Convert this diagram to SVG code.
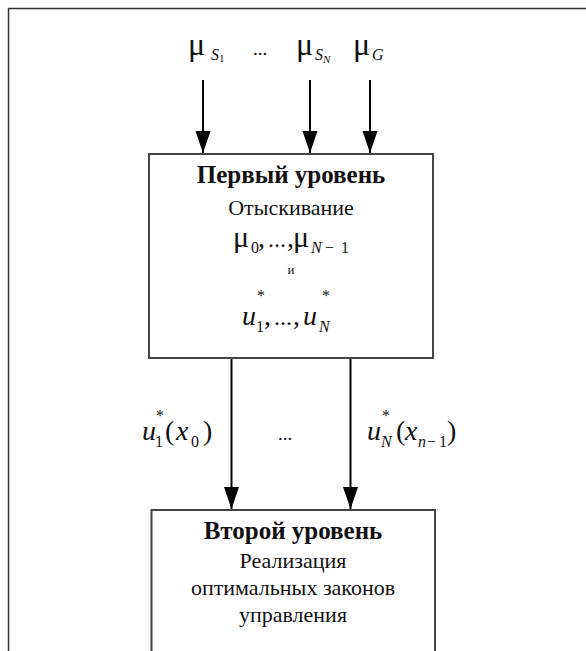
<svg xmlns="http://www.w3.org/2000/svg" width="586" height="651" viewBox="0 0 586 651">
<defs>
<style>
text{font-family:"Liberation Serif","Times New Roman",serif;fill:#111}
.b{font-weight:bold;font-size:25px}
.r{font-size:22px}
.mu{font-size:32px}
.mu2{font-size:30px}
.m{font-size:28px}
.dm{font-size:24px}
.d{font-size:19px}
.s{font-size:16px}
.ss{font-size:11px}
.i{font-style:italic}
.box{fill:#fff;stroke:#444;stroke-width:2}
.ar{stroke:#000;stroke-width:2;fill:none;marker-end:url(#ah)}
</style>
<marker id="ah" markerUnits="userSpaceOnUse" markerWidth="24" markerHeight="16" refX="22" refY="7.5" orient="auto">
<path d="M0,0 L22,7.5 L0,15 Z" fill="#000"/>
</marker>
</defs>
<rect x="8.5" y="8.5" width="620" height="700" fill="none" stroke="#333" stroke-width="1.5"/>
<g id="inputs">
<text class="mu" x="188" y="55">μ</text><text class="s i" x="211" y="60">S</text><text class="ss" x="219" y="62">1</text>
<text class="d" x="253" y="55">...</text>
<text class="mu" x="296" y="55">μ</text><text class="s i" x="315" y="60">S</text><text class="ss i" x="323" y="63">N</text>
<text class="mu" x="353" y="55">μ</text><text class="s i" x="372" y="60">G</text>
</g>
<g id="level1">
<rect class="box" x="149" y="154" width="284" height="204"/>
<text class="b" x="291" y="183" text-anchor="middle">Первый уровень</text>
<text class="r" x="291" y="215" text-anchor="middle">Отыскивание</text>
<text class="mu2" x="233" y="247">μ</text><text class="s" x="251" y="253">0</text><text class="m" x="258" y="247">,</text><text class="dm" x="268" y="247">...</text><text class="m" x="287" y="247">,</text>
<text class="mu2" x="293" y="247">μ</text><text class="s i" x="311" y="253">N</text><text class="s" x="325" y="253">−</text><text class="s" x="341" y="253">1</text>
<text x="291" y="274" text-anchor="middle" style="font-size:13px">и</text>
<text class="m i" x="242" y="325">u</text><text class="s" x="256" y="332">1</text><text class="s" x="257" y="301">*</text><text class="m" x="264" y="325">,</text>
<text class="dm" x="274" y="325">...</text><text class="m" x="293" y="325">,</text>
<text class="m i" x="303" y="325">u</text><text class="s i" x="319" y="332">N</text><text class="s" x="322" y="301">*</text>
</g>
<g id="level2">
<rect class="box" x="151.5" y="510" width="283.5" height="200"/>
<text class="b" x="293" y="539" text-anchor="middle">Второй уровень</text>
<text class="r" x="293" y="568" text-anchor="middle">Реализация</text>
<text class="r" x="293" y="595" text-anchor="middle">оптимальных законов</text>
<text class="r" x="293" y="622" text-anchor="middle">управления</text>
</g>
<g id="connectors">
<line class="ar" x1="203" y1="80" x2="203" y2="153"/>
<line class="ar" x1="310" y1="80" x2="310" y2="153"/>
<line class="ar" x1="370" y1="80" x2="370" y2="153"/>
<line class="ar" x1="231.5" y1="359" x2="231.5" y2="509"/>
<line class="ar" x1="350.5" y1="359" x2="350.5" y2="509"/>
</g>
<g id="labels">
<text class="m i" x="142" y="440">u</text><text class="s" x="155" y="447">1</text><text class="s" x="156" y="421">*</text>
<text class="m" x="165" y="440">(</text><text class="m i" x="176" y="440">x</text><text class="s" x="191" y="447">0</text><text class="m" x="203" y="440">)</text>
<text class="d" x="278" y="440">...</text>
<text class="m i" x="367" y="440">u</text><text class="s i" x="381" y="447">N</text><text class="s" x="382" y="421">*</text>
<text class="m" x="396" y="440">(</text><text class="m i" x="405" y="440">x</text><text class="s i" x="418" y="447">n</text><text class="s" x="427" y="447">−</text><text class="s" x="439" y="447">1</text><text class="m" x="447" y="440">)</text>
</g>
</svg>
